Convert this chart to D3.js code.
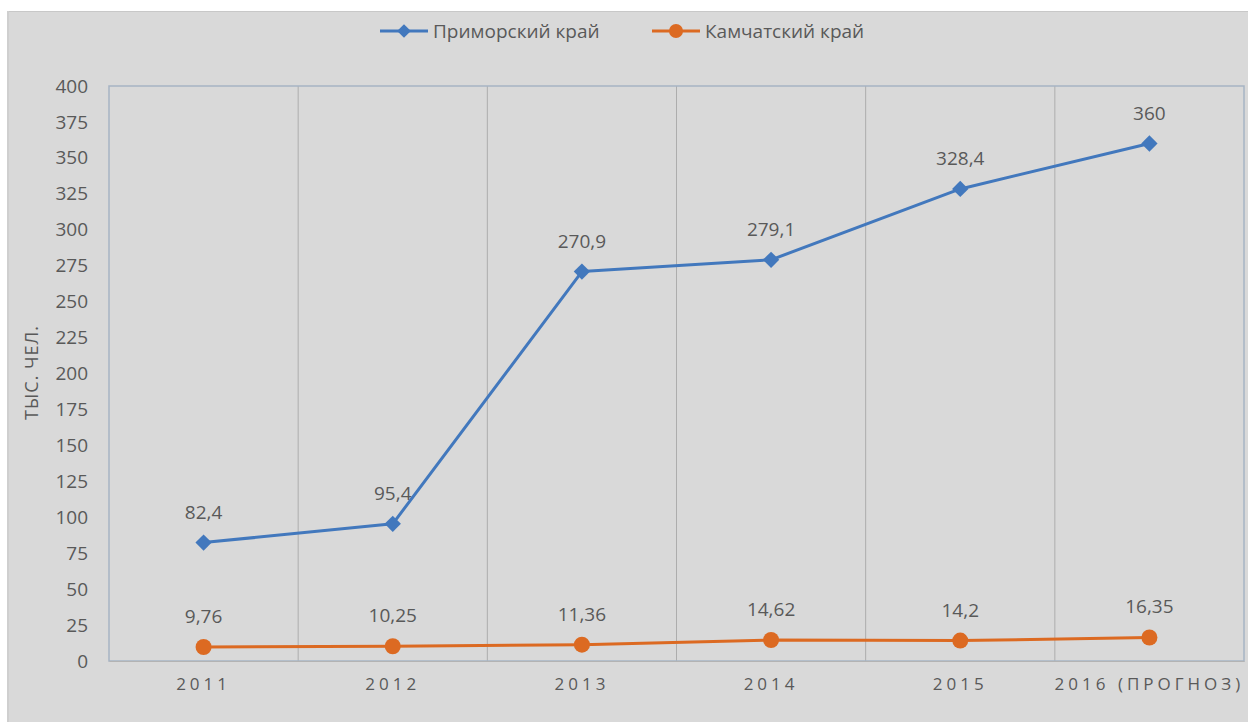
<!DOCTYPE html>
<html><head><meta charset="utf-8">
<script src="https://cdn.jsdelivr.net/npm/d3@7"></script>
<style>
html,body{margin:0;padding:0;background:#fff;}
svg{display:block;}
</style></head>
<body>
<svg id="chart" width="1248" height="722"></svg>
<script>
const categories = ["2011","2012","2013","2014","2015","2016 (ПРОГНОЗ)"];
const primorsky = [82.4, 95.4, 270.9, 279.1, 328.4, 360];
const kamchatka = [9.76, 10.25, 11.36, 14.62, 14.2, 16.35];
const primorskyLabels = ["82,4","95,4","270,9","279,1","328,4","360"];
const kamchatkaLabels = ["9,76","10,25","11,36","14,62","14,2","16,35"];
const yTicks = [0,25,50,75,100,125,150,175,200,225,250,275,300,325,350,375,400];
const seriesNames = ["Приморский край","Камчатский край"];

const svg = d3.select("#chart");
const W = 1248, H = 722;
const font = "'Open Sans', 'Noto Sans', sans-serif";
const textCol = "#595959";
const blue = "#4278bd", orange = "#dc6a22";

// background panel
svg.append("rect").attr("x",0).attr("y",0).attr("width",W).attr("height",H).attr("fill","#ffffff");
svg.append("rect").attr("x",7).attr("y",11).attr("width",W-7).attr("height",H-11).attr("fill","#d9d9d9");
svg.append("line").attr("x1",7).attr("x2",W).attr("y1",11.5).attr("y2",11.5).attr("stroke","#c8c8c8");
svg.append("line").attr("x1",8).attr("x2",8).attr("y1",11).attr("y2",H).attr("stroke","#cfcfcf").attr("stroke-width",2);

const m = {left:109, right:1244, top:86, bottom:661};
const x = d3.scaleBand().domain(categories).range([m.left, m.right]).padding(0);
const y = d3.scaleLinear().domain([0,400]).range([m.bottom, m.top]);
const cx = d => x(d) + x.bandwidth()/2;

// vertical gridlines at category boundaries
const bounds = categories.map(c => x(c)).concat([m.right]);
svg.append("g").selectAll("line").data(bounds.slice(1,-1)).join("line")
  .attr("x1",d=>d).attr("x2",d=>d).attr("y1",m.top).attr("y2",m.bottom)
  .attr("stroke","#adadad").attr("stroke-width",1);

// plot border
svg.append("rect").attr("x",m.left).attr("y",m.top).attr("width",m.right-m.left).attr("height",m.bottom-m.top)
  .attr("fill","none").attr("stroke","#a6b4c4").attr("stroke-width",1.5);

// y axis
const yAxis = d3.axisLeft(y).tickValues(yTicks).tickSize(0).tickPadding(21);
const gy = svg.append("g").attr("transform",`translate(${m.left},0)`).call(yAxis);
gy.select(".domain").remove();
gy.selectAll("text").attr("font-family",font).attr("font-size",19).attr("fill",textCol);

// x axis
const xAxis = d3.axisBottom(x).tickSize(0).tickPadding(17);
const gx = svg.append("g").attr("transform",`translate(0,${m.bottom})`).call(xAxis);
gx.select(".domain").attr("stroke","#b3b3b3");
gx.selectAll("text").attr("font-family",font).attr("font-size",17).attr("fill",textCol)
  .attr("letter-spacing","4px");

// y axis title
svg.append("text").attr("transform",`translate(38,${(m.top+m.bottom)/2-1}) rotate(-90)`)
  .attr("text-anchor","middle").attr("font-family",font).attr("font-size",18).attr("fill",textCol)
  .attr("letter-spacing","1px")
  .text("ТЫС. ЧЕЛ.");

const line = d3.line().x((d,i)=>cx(categories[i])).y(d=>y(d));

function drawSeries(vals, labels, color, marker){
  svg.append("path").datum(vals).attr("d",line).attr("fill","none")
    .attr("stroke",color).attr("stroke-width",3).attr("stroke-linejoin","round");
  const g = svg.append("g");
  if(marker==="diamond"){
    g.selectAll("path").data(vals).join("path")
      .attr("d", d3.symbol().type(d3.symbolDiamond2).size(170))
      .attr("transform",(d,i)=>`translate(${cx(categories[i])},${y(d)})`)
      .attr("fill",color);
  } else {
    g.selectAll("circle").data(vals).join("circle")
      .attr("cx",(d,i)=>cx(categories[i])).attr("cy",d=>y(d)).attr("r",8)
      .attr("fill",color);
  }
  svg.append("g").selectAll("text").data(vals).join("text")
    .attr("x",(d,i)=>cx(categories[i])).attr("y",d=>y(d)-24)
    .attr("text-anchor","middle").attr("font-family",font).attr("font-size",19)
    .attr("fill",textCol).text((d,i)=>labels[i]);
}
drawSeries(primorsky, primorskyLabels, blue, "diamond");
drawSeries(kamchatka, kamchatkaLabels, orange, "circle");

// legend
const legend = [
  {name:seriesNames[0], color:blue, marker:"diamond", x:380},
  {name:seriesNames[1], color:orange, marker:"circle", x:652}
];
const lg = svg.append("g");
legend.forEach(l=>{
  lg.append("line").attr("x1",l.x).attr("x2",l.x+48).attr("y1",31).attr("y2",31)
    .attr("stroke",l.color).attr("stroke-width",3);
  if(l.marker==="diamond"){
    lg.append("path").attr("d",d3.symbol().type(d3.symbolDiamond2).size(120)())
      .attr("transform",`translate(${l.x+24},31)`).attr("fill",l.color);
  } else {
    lg.append("circle").attr("cx",l.x+24).attr("cy",31).attr("r",7).attr("fill",l.color);
  }
  lg.append("text").attr("x",l.x+53).attr("y",38).attr("font-family",font)
    .attr("font-size",19).attr("fill",textCol).text(l.name);
});
</script>
</body></html>
